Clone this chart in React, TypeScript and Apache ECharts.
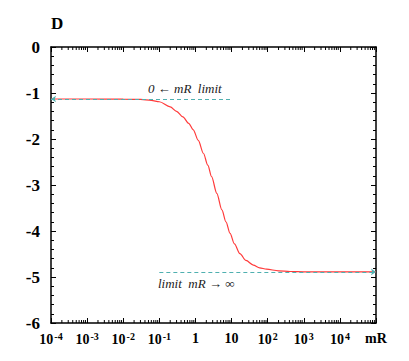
import React, { useEffect, useRef } from "react";
import * as echarts from "echarts";

const mR = [1e-4, 1e-3, 1e-2, 0.03, 0.06, 0.1, 0.2, 0.3, 0.45, 0.65, 0.87, 1.2, 1.66, 2.2, 2.8, 3.9, 5.4, 7, 9.1, 12, 17, 25, 40, 60, 93, 200, 417, 1e3, 1e4, 1e5];
const D = [-1.13, -1.13, -1.133, -1.14, -1.16, -1.19, -1.3, -1.4, -1.52, -1.66, -1.8, -2.03, -2.31, -2.57, -2.82, -3.18, -3.54, -3.8, -4.05, -4.28, -4.49, -4.64, -4.74, -4.8, -4.83, -4.865, -4.88, -4.887, -4.89, -4.89];
const upperLimit = -1.13;
const lowerLimit = -4.89;
const upperLineRange = [1e-4, 10];
const lowerLineRange = [0.1, 1e5];
const yTicks = [0, -1, -2, -3, -4, -5, -6];
const decades = [-4, -3, -2, -1, 0, 1, 2, 3, 4];
const minorMultipliers = [2, 3, 4, 5, 6, 7, 8, 9];

const FONT = "Liberation Serif";

export default function App() {
  const ref = useRef<HTMLDivElement>(null);
  useEffect(() => {
    if (!ref.current) return;
    const chart = echarts.init(ref.current, null, { renderer: "svg" });
    const minorX: number[][] = [];
    decades.forEach((d) => minorMultipliers.forEach((k) => minorX.push([k * Math.pow(10, d), -6])));
    const xFormatter = (v: number) => {
      const e = Math.round(Math.log10(v));
      if (e === 5) return "{b|mR}";
      if (e === 0) return "{b|1}";
      if (e === 1) return "{b|10}";
      return "{b|10}{sup|" + e + "}";
    };
    const common = {
      type: "log" as const,
      logBase: 10,
      min: 1e-4,
      max: 1e5,
      interval: 1,
      splitLine: { show: false },
      axisLine: { show: true, onZero: false, lineStyle: { color: "#000", width: 1.5 } },
      axisTick: { show: true, inside: true, length: 5, lineStyle: { color: "#000", width: 1 } },
      minorTick: { show: false },
    };
    const yCommon = {
      type: "value" as const,
      min: -6,
      max: 0,
      interval: 1,
      splitLine: { show: false },
      axisLine: { show: true, onZero: false, lineStyle: { color: "#000", width: 1.5 } },
      axisTick: { show: true, inside: true, length: 5, lineStyle: { color: "#000", width: 1 } },
      minorTick: { show: true, splitNumber: 5, length: 3, lineStyle: { color: "#000", width: 1 } },
    };
    chart.setOption({
      animation: false,
      grid: { left: 51, top: 47, width: 325, height: 276, containLabel: false },
      xAxis: [
        {
          ...common,
          position: "bottom",
          axisLabel: {
            show: true,
            color: "#000",
            fontFamily: FONT,
            fontWeight: "bold",
            fontSize: 14,
            margin: 8,
            formatter: xFormatter,
            rich: {
              b: { fontFamily: FONT, fontWeight: "bold", fontSize: 14, color: "#000" },
              sup: { fontFamily: FONT, fontWeight: "bold", fontSize: 10, color: "#000", verticalAlign: "top", padding: [0, 0, 6, 1] },
            },
          },
        },
        { ...common, position: "top", axisLabel: { show: false } },
      ],
      yAxis: [
        {
          ...yCommon,
          position: "left",
          axisLabel: {
            show: true,
            color: "#000",
            fontFamily: FONT,
            fontWeight: "bold",
            fontSize: 17,
            margin: 11,
            formatter: (v: number) => (yTicks.includes(v) ? String(v) : ""),
          },
        },
        { ...yCommon, position: "right", axisLabel: { show: false } },
      ],
      graphic: [
        { type: "text", left: 51, top: 15, style: { text: "D", fontFamily: FONT, fontWeight: "bold", fontSize: 17, fill: "#000" } },
        { type: "text", left: 148, top: 82, style: { text: "0 ← mR  limit", fontFamily: FONT, fontStyle: "italic", fontSize: 13, fill: "#222" } },
        { type: "text", left: 158, top: 277, style: { text: "limit  mR → ∞", fontFamily: FONT, fontStyle: "italic", fontSize: 13, fill: "#222" } },
      ],
      series: [
        {
          type: "line",
          data: mR.map((x, i) => [x, D[i]]),
          smooth: 0.3,
          smoothMonotone: "x",
          showSymbol: false,
          symbol: "none",
          lineStyle: { color: "#ff3b3b", width: 1.2 },
          markLine: {
            silent: true,
            animation: false,
            label: { show: false },
            lineStyle: { color: "#4fb0b0", type: [4, 3], width: 1 },
            data: [
              [
                { coord: [upperLineRange[0], upperLimit], symbol: "arrow", symbolSize: 5 },
                { coord: [upperLineRange[1], upperLimit], symbol: "none" },
              ],
              [
                { coord: [lowerLineRange[0], lowerLimit], symbol: "none" },
                { coord: [lowerLineRange[1], lowerLimit], symbol: "arrow", symbolSize: 5 },
              ],
            ],
          },
          z: 3,
        },
        {
          type: "custom",
          silent: true,
          clip: false,
          data: minorX,
          renderItem: (params: any, api: any) => {
            const v = api.value(0);
            const top = api.coord([v, 0]);
            const bot = api.coord([v, -6]);
            return {
              type: "group",
              children: [
                { type: "line", shape: { x1: bot[0], y1: bot[1], x2: bot[0], y2: bot[1] - 3 }, style: { stroke: "#000", lineWidth: 1 } },
                { type: "line", shape: { x1: top[0], y1: top[1], x2: top[0], y2: top[1] + 3 }, style: { stroke: "#000", lineWidth: 1 } },
              ],
            };
          },
        },
      ],
    });
    return () => chart.dispose();
  }, []);
  return <div ref={ref} style={{ width: 409, height: 361, margin: -8 }} />;
}
